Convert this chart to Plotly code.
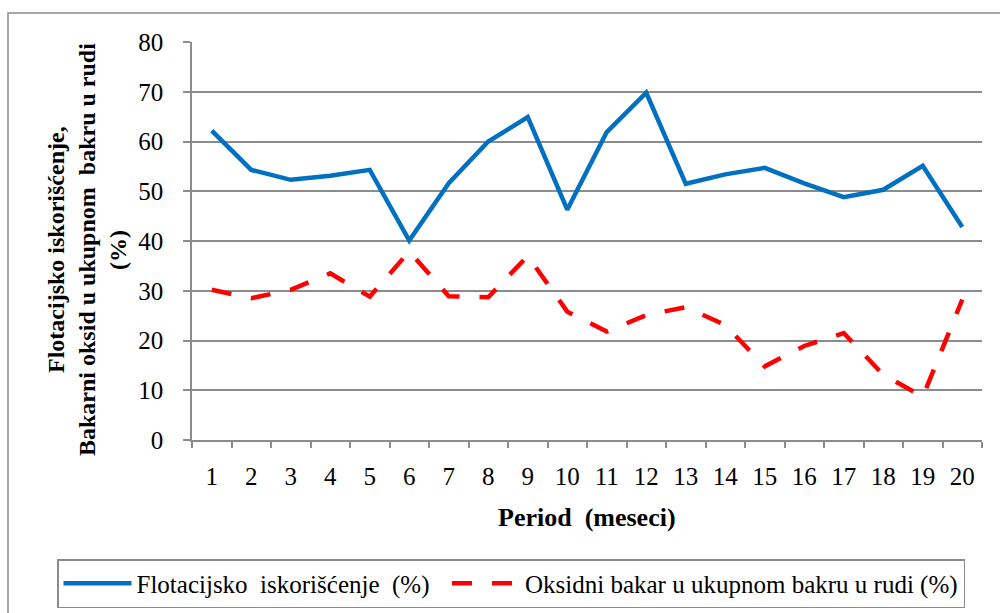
import plotly.graph_objects as go

# Monthly periods
periods = [str(i) for i in range(1, 21)]

# Flotation recovery (%)
flotacija = [62.2, 54.3, 52.3, 53.1, 54.3, 40.1, 51.6, 60.0, 64.9, 46.3,
             61.9, 69.8, 51.5, 53.4, 54.7, 51.6, 48.8, 50.3, 55.1, 42.8]

# Oxide copper share in total copper in ore (%)
oksidni = [30.2, 28.5, 30.2, 33.5, 28.8, 37.9, 28.9, 28.7, 37.0, 25.8,
           21.8, 25.1, 26.7, 23.1, 14.8, 18.9, 21.5, 13.1, 8.7, 28.2]

y_ticks = [0, 10, 20, 30, 40, 50, 60, 70, 80]

name_flot = "Flotacijsko  iskorišćenje  (%)\u00a0\u00a0"
name_oks = "Oksidni bakar u ukupnom bakru u rudi (%)"
y_title_lines = ["Flotacijsko iskorišćenje,",
                 "Bakarni oksid u ukupnom  bakru u rudi",
                 "(%)"]
x_title = "Period  (meseci)"

SERIF = "Liberation Serif"
GRID = "#8c8c8c"

W, H = 1000, 613
L, R, T, B = 192, 18, 42, 173
pw, ph = W - L - R, H - T - B


def px_x(p):
    return (p - L) / pw


def px_y(p):
    return (H - B - p) / ph


fig = go.Figure()
fig.add_trace(go.Scatter(
    x=periods, y=flotacija, mode="lines", name=name_flot,
    line=dict(color="#0070C0", width=4.5),
))
fig.add_trace(go.Scatter(
    x=periods, y=oksidni, mode="lines", name=name_oks,
    line=dict(color="#FF0000", width=4.5, dash="20px,20px"),
))

annotations = []
for xp, line in zip([56, 87, 118], y_title_lines):
    annotations.append(dict(
        text=f"<b>{line}</b>", xref="paper", yref="paper",
        x=px_x(xp), y=px_y(250), xanchor="center", yanchor="middle",
        textangle=-90, showarrow=False,
        font=dict(family=SERIF, size=24, color="black"),
    ))
annotations.append(dict(
    text=f"<b>{x_title}</b>", xref="paper", yref="paper",
    x=px_x(587), y=px_y(517), xanchor="center", yanchor="middle",
    showarrow=False, font=dict(family=SERIF, size=26, color="black"),
))

fig.update_layout(
    width=W, height=H,
    margin=dict(l=L, r=R, t=T, b=B, autoexpand=False),
    paper_bgcolor="white", plot_bgcolor="white",
    showlegend=True,
    legend=dict(
        orientation="h", x=px_x(57), y=px_y(559),
        xanchor="left", yanchor="top",
        bordercolor="#8c8c8c", borderwidth=1.5,
        font=dict(family=SERIF, size=25, color="black"),
        itemwidth=68,
    ),
    annotations=annotations,
    shapes=[dict(
        type="rect", xref="paper", yref="paper",
        x0=px_x(8), x1=px_x(1010), y0=px_y(625), y1=px_y(13),
        line=dict(color="#8c8c8c", width=1.5), fillcolor="rgba(0,0,0,0)",
        layer="below",
    )],
)

fig.update_xaxes(
    type="category", tickson="boundaries", range=[-0.5, 19.5],
    ticks="outside", ticklen=6, tickwidth=1.5, tickcolor=GRID,
    showline=True, linecolor=GRID, linewidth=1.5,
    showgrid=False, ticklabelstandoff=13,
    tickfont=dict(family=SERIF, size=25, color="black"),
)
fig.update_yaxes(
    range=[0, 80], tickvals=y_ticks,
    ticks="outside", ticklen=7, tickwidth=1.5, tickcolor=GRID,
    showline=True, linecolor=GRID, linewidth=1.5,
    showgrid=True, gridcolor=GRID, gridwidth=1.5,
    zeroline=False, ticklabelstandoff=15,
    tickfont=dict(family=SERIF, size=25, color="black"),
)

fig.write_html("out.html")
